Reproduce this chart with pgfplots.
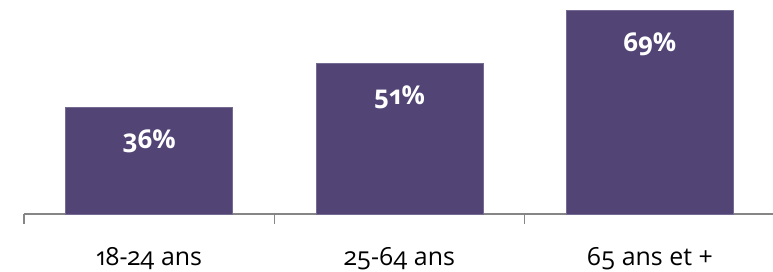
\documentclass[border=0pt]{standalone}
\usepackage{pgfplots}
\pgfplotsset{compat=1.18}
\usepackage{fontspec}
\setmainfont{Open Sans}[Numbers=OldStyle]
\definecolor{barc}{RGB}{82,69,118}
\definecolor{axc}{RGB}{134,134,134}
\begin{document}
\begin{tikzpicture}
\begin{axis}[
  at={(0,0)}, anchor=south west,
  scale only axis, width=751bp, height=214bp,
  xmin=-0.5, xmax=2.5, ymin=0, ymax=72.4,
  axis x line=bottom, axis y line=none,
  axis line style={axc, line width=1.3bp, -},
  xtick={0,1,2},
  xticklabels={18-24 ans,25-64 ans,65 ans et +},
  major tick length=0pt,
  minor xtick={-0.5,0.5,1.5},
  minor tick length=10bp,
  tick align=outside,
  minor tick style={axc, line width=1.3bp},
  x tick label style={font=\fontsize{25}{30}\selectfont, anchor=base, inner sep=0pt, yshift=-51bp, text=black},
  ybar, bar width=167bp,
  /pgf/number format/assume math mode=true,
  nodes near coords={\pgfmathprintnumber{\pgfplotspointmeta}\%},
  every node near coord/.append style={font=\fontsize{26}{32}\selectfont\bfseries, text=white, anchor=center, yshift=-34bp},
  clip=false,
]
\addplot[fill=barc, draw=barc!80!white, line width=0.6bp] coordinates {(0,36) (1,51) (2,69)};
\end{axis}
\pgfresetboundingbox
\path[use as bounding box] (-24bp,-58bp) rectangle (749bp,214bp);
\end{tikzpicture}
\end{document}
